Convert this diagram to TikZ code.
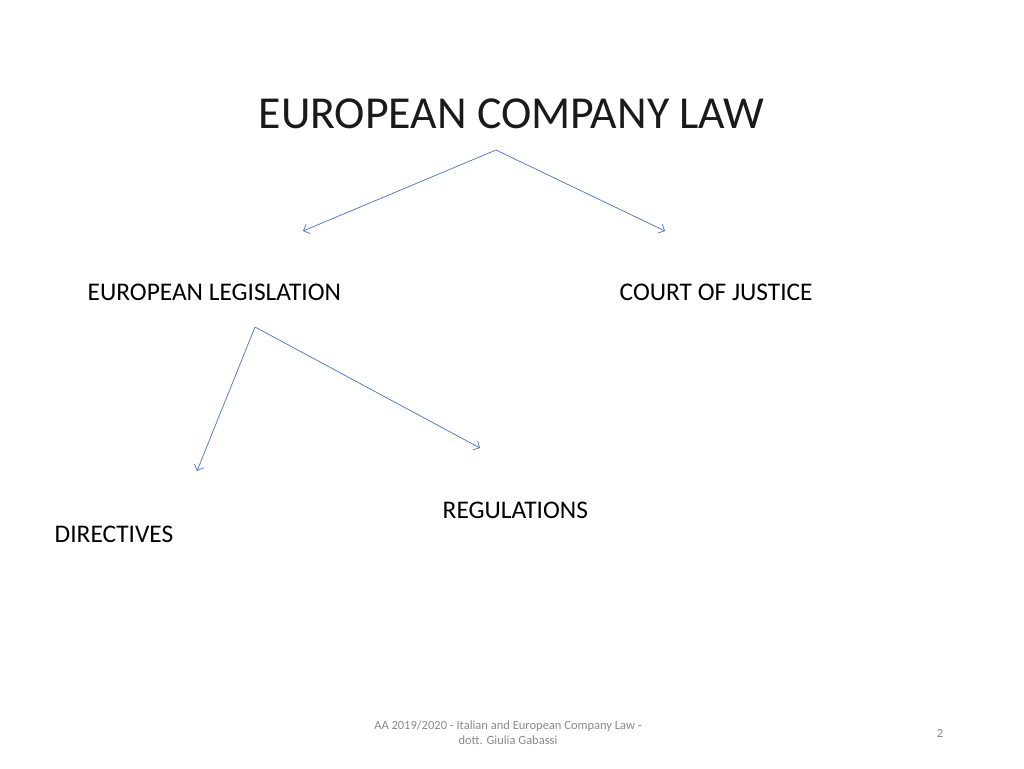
\documentclass[tikz,border=0pt]{standalone}
\usepackage{fontspec}
\setmainfont{Carlito}
\usetikzlibrary{arrows.meta}
\definecolor{arrowblue}{HTML}{4472C4}
\definecolor{footgray}{HTML}{898989}
\definecolor{titletext}{HTML}{1A1A1A}
\tikzset{
  lbl/.style={inner sep=0pt, font=\fontsize{25.4}{30}\selectfont, anchor=west},
  ttl/.style={inner sep=0pt, font=\fontsize{45.8}{54}\selectfont, text=titletext},
  foot/.style={inner sep=0pt, font=\fontsize{12.5}{15}\selectfont, text=footgray, align=center},
  conn/.style={draw=arrowblue, line width=0.7pt, -{Straight Barb[length=5pt,width=10pt]}}
}
\begin{document}
\begin{tikzpicture}[x=1pt,y=-1pt]
\useasboundingbox (0,0) rectangle (1024,768);
\node[ttl] (title) at (511.5,113.5) {EUROPEAN COMPANY LAW};
\node[lbl] (leg) at (87.5,292) {EUROPEAN LEGISLATION};
\node[lbl] (court) at (619.5,292) {COURT OF JUSTICE};
\node[lbl] (reg) at (442.5,510) {REGULATIONS};
\node[lbl] (dir) at (54.5,534) {DIRECTIVES};
\node[foot] (footer) at (508,733) {AA 2019/2020 - Italian and European Company Law -\\dott. Giulia Gabassi};
\node[foot] (page) at (940,733) {2};
\coordinate (t1) at (496,150);
\coordinate (t1l) at (303,231);
\coordinate (t1r) at (665,231);
\coordinate (t2) at (255,327);
\coordinate (t2l) at (197,471);
\coordinate (t2r) at (480,448);
\draw[conn] (t1) -- (t1l);
\draw[conn] (t1) -- (t1r);
\draw[conn] (t2) -- (t2l);
\draw[conn] (t2) -- (t2r);
\end{tikzpicture}
\end{document}
